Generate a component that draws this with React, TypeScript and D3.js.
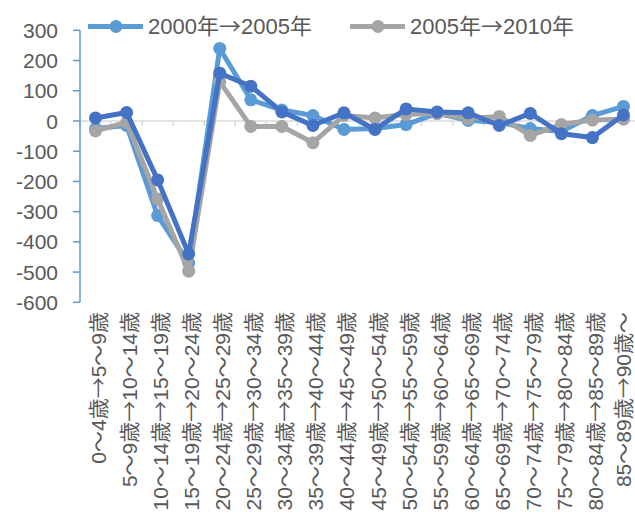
import React from 'react';
import * as d3 from 'd3';

// age-group transitions (x axis)
const categories = [
  '0～4歳→5～9歳', '5～9歳→10～14歳', '10～14歳→15～19歳', '15～19歳→20～24歳',
  '20～24歳→25～29歳', '25～29歳→30～34歳', '30～34歳→35～39歳', '35～39歳→40～44歳',
  '40～44歳→45～49歳', '45～49歳→50～54歳', '50～54歳→55～59歳', '55～59歳→60～64歳',
  '60～64歳→65～69歳', '65～69歳→70～74歳', '70～74歳→75～79歳', '75～79歳→80～84歳',
  '80～84歳→85～89歳', '85～89歳→90歳～',
];

const s2000_2005 = [-25, -15, -313, -470, 240, 70, 36, 18, -28, -25, -12, 25, 2, -5, -25, -35, 18, 48];
const s2005_2010 = [-33, -5, -258, -497, 130, -18, -18, -72, 18, 10, 22, 25, 8, 15, -48, -12, 3, 6];
const s2010_2015 = [10, 28, -195, -440, 158, 115, 30, -15, 27, -28, 40, 30, 27, -15, 25, -42, -55, 20];

const yTicks = [300, 200, 100, 0, -100, -200, -300, -400, -500, -600];

const seriesList = [
  { name: '2000年→2005年', values: s2000_2005, color: '#5B9BD5', legend: true },
  { name: '2005年→2010年', values: s2005_2010, color: '#A5A5A5', legend: true },
  { name: '2010年→2015年', values: s2010_2015, color: '#4472C4', legend: false },
];

const font = '"Liberation Sans", "Noto Sans CJK JP", sans-serif';
const cjk = '"Noto Sans CJK JP", sans-serif';
const textColor = '#595959';

// render the arrow with the CJK font so it is full width like the original
function withArrow(label: string) {
  const parts = label.split('→');
  return parts.map((p, i) => (
    <React.Fragment key={i}>
      {i > 0 && <tspan fontFamily={cjk}>→</tspan>}
      <tspan>{p}</tspan>
    </React.Fragment>
  ));
}

export default function App() {
  const width = 635, height = 524;
  const left = 80, right = 639, top = 30.3, bottom = 302.3;

  const x = d3.scaleBand<string>().domain(categories).range([left, right]);
  const y = d3.scaleLinear().domain([300, -600]).range([top, bottom]);
  const cx = (i: number) => (x(categories[i]) as number) + x.bandwidth() / 2;

  const line = d3.line<number>().x((d, i) => cx(i)).y(d => y(d));

  const legendPos = [88, 350];

  return (
    <svg width={width} height={height} style={{ position: 'absolute', left: 0, top: 0 }} fontFamily={font}>
      <rect width={width} height={height} fill="#fff" />

      {/* category axis on zero */}
      <line x1={left} x2={right} y1={y(0)} y2={y(0)} stroke="#D9D9D9" strokeWidth={1.5} />
      {d3.range(categories.length + 1).map(i => {
        const xx = left + i * x.bandwidth();
        return <line key={i} x1={xx} x2={xx} y1={y(0)} y2={y(0) + 5} stroke="#D9D9D9" strokeWidth={1.5} />;
      })}

      {/* y axis */}
      <line x1={left} x2={left} y1={y(300)} y2={y(-600)} stroke="#5B9BD5" strokeWidth={1.5} />
      {yTicks.map(t => (
        <g key={t}>
          <line x1={left - 7} x2={left} y1={y(t)} y2={y(t)} stroke="#5B9BD5" strokeWidth={1.5} />
          <text x={58} y={y(t)} dy="0.36em" textAnchor="end" fontSize={21} fill={textColor}>{t}</text>
        </g>
      ))}

      {/* series */}
      {seriesList.map(s => (
        <g key={s.name}>
          <path d={line(s.values) || ''} fill="none" stroke={s.color} strokeWidth={5} strokeLinejoin="round" />
          {s.values.map((v, i) => (
            <circle key={i} cx={cx(i)} cy={y(v)} r={6.5} fill={s.color} />
          ))}
        </g>
      ))}

      {/* category labels */}
      {categories.map((c, i) => (
        <text key={c} transform={`translate(${Math.min(cx(i), 620)},312) rotate(-90)`} dy="0.5em"
          textAnchor="end" fontSize={21} fill={textColor}>{withArrow(c)}</text>
      ))}

      {/* legend */}
      {seriesList.filter(s => s.legend).map((s, i) => (
        <g key={s.name} transform={`translate(${legendPos[i]},26.5)`}>
          <line x1={0} x2={55} y1={0} y2={0} stroke={s.color} strokeWidth={5} />
          <circle cx={28} cy={0} r={6.5} fill={s.color} />
          <text x={60} y={0} dy="0.36em" fontSize={22} fill={textColor}>{withArrow(s.name)}</text>
        </g>
      ))}
    </svg>
  );
}
